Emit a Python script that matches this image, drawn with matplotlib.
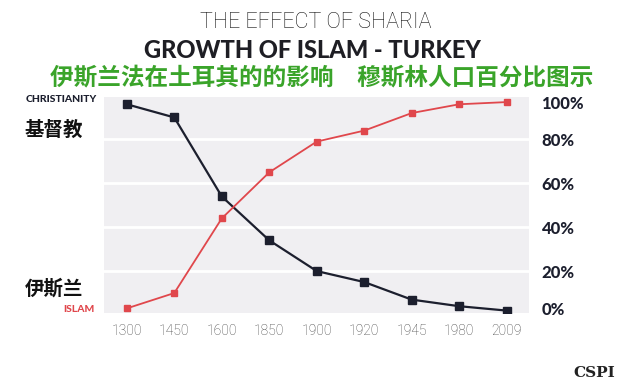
import matplotlib
matplotlib.use("Agg")
import matplotlib.pyplot as plt

# data
years = ["1300", "1450", "1600", "1850", "1900", "1920", "1945", "1980", "2009"]
christianity = [96, 90, 54, 34, 20, 15, 7, 4, 2]
islam = [3, 10, 44, 65, 79, 84, 92, 96, 97]
pct_labels = ["0%", "20%", "40%", "60%", "80%", "100%"]
pct_pos = [3, 20, 40, 60, 80, 97]

dark = "#1c1f2e"
red = "#e0474c"
green = "#3aa42a"

plt.rcParams['font.family'] = ['Lato', 'DejaVu Sans']

fig = plt.figure(figsize=(6.4, 3.82), dpi=100)
ax = fig.add_axes([0.1625, 0.1806, 0.6641, 0.5654])
ax.set_facecolor("#f0eff2")

x = list(range(len(years)))
ax.plot(x, christianity, color=dark, lw=1.6, marker="s", ms=5.5, zorder=3)
ax.plot(x, islam, color=red, lw=1.3, marker="s", ms=5, zorder=3)

ax.set_xlim(-0.48, 8.47)
ax.set_ylim(0.9, 99.3)
for g in [20, 40, 60, 80]:
    ax.axhline(g, color="white", lw=2, zorder=1)

for s in ax.spines.values():
    s.set_visible(False)

ax.set_xticks(x)
ax.set_xticklabels(years, fontsize=10, color="#444444",
                   family=['Roboto', 'DejaVu Sans'], fontweight="light")
ax.tick_params(axis="x", length=0, pad=8)

ax.yaxis.tick_right()
ax.set_yticks(pct_pos)
ax.set_yticklabels(pct_labels, fontsize=12, fontweight="black", color=dark)
ax.tick_params(axis="y", length=0, pad=9)

# titles
fig.text(0.493, 1 - 22 / 382, "THE EFFECT OF SHARIA", ha="center", va="center",
         fontsize=15.5, fontweight="light", color="#111111",
         family=['Roboto', 'DejaVu Sans'])
fig.text(0.488, 1 - 50 / 382, "GROWTH OF ISLAM - TURKEY", ha="center", va="center",
         fontsize=17, fontweight="black", color="#1e1e24")
fig.text(0.502, 1 - 77 / 382, "伊斯兰法在土耳其的的影响　穆斯林人口百分比图示",
         ha="center", va="center", fontsize=17, fontweight="bold", color=green,
         family=['Noto Sans CJK SC', 'DejaVu Sans'])

# side labels
fig.text(97 / 640, 1 - 100 / 382, "CHRISTIANITY", ha="right", va="center",
         fontsize=7.5, fontweight="black", color=dark)
fig.text(25 / 640, 1 - 130 / 382, "基督教", ha="left", va="center",
         fontsize=14, fontweight="bold", color="#111111",
         family=['Noto Sans CJK SC', 'DejaVu Sans'])
fig.text(25 / 640, 1 - 289 / 382, "伊斯兰", ha="left", va="center",
         fontsize=14, fontweight="bold", color="#111111",
         family=['Noto Sans CJK SC', 'DejaVu Sans'])
fig.text(95 / 640, 1 - 310 / 382, "ISLAM", ha="right", va="center",
         fontsize=7.5, fontweight="black", color=red)

fig.text(594 / 640, 2 / 382, "CSPI", ha="center", va="bottom",
         fontsize=11, fontweight="bold", color="#222222", family="DejaVu Serif")

fig.savefig("out.png", dpi=100)
